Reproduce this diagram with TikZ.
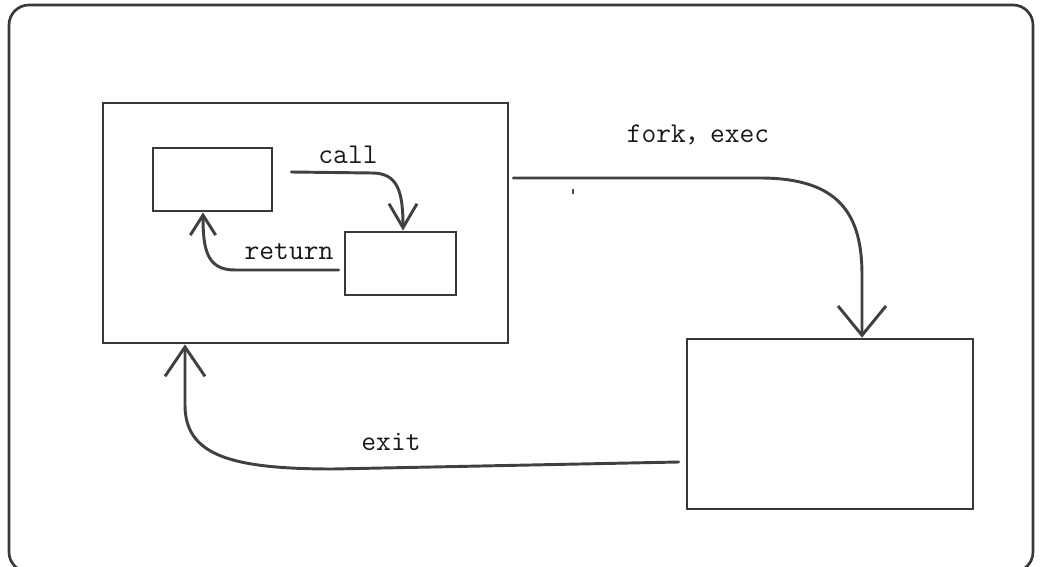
\documentclass[tikz,border=0pt]{standalone}
\usepackage{fontspec}
\newfontfamily\cjk{Noto Sans CJK SC}
\usetikzlibrary{arrows.meta,calc}
\begin{document}
\begin{tikzpicture}[x=0.75pt,y=-0.75pt,
  line/.style={draw=black!78, line width=2.1pt},
  box/.style={line, rectangle, inner sep=0pt, fill=white},
  conn/.style={draw=black!75, line width=2.2pt, line cap=round, line join=round},
  lbl/.style={font=\fontsize{21.5}{23}\selectfont\ttfamily, text=black!90, inner sep=0pt}]
\useasboundingbox (0,0) rectangle (1043,567);
\clip (0,0) rectangle (1043,567);
% outer frame
\draw[line, line width=2pt, rounded corners=15pt] (9,5) rectangle (1033,572);
% boxes
\node[box, minimum width=303.75pt, minimum height=180pt] (P) at (305.5,223) {};
\node[box, minimum width=89.25pt, minimum height=47.25pt] (A) at (212.5,179.5) {};
\node[box, minimum width=83.25pt, minimum height=47.25pt] (B) at (400.5,263.5) {};
\node[box, minimum width=214.5pt, minimum height=127.5pt] (C) at (830,424) {};
% connectors
\draw[conn, -{Straight Barb[length=18pt,width=21pt]}]
  ($(A.east)+(18,-7.5)$) -- (372,173) .. controls (398,173) and (403,192) .. ($(B.north)+(2.5,0)$);
\draw[conn, -{Straight Barb[length=15pt,width=19pt]}]
  ($(B.west)+(-5,6.5)$) -- (235,270) .. controls (207,270) and (203,250) .. ($(A.south)+(-9.5,0)$);
\draw[conn, -{Straight Barb[length=22pt,width=36pt]}]
  ($(P.east)+(4,-45)$) -- (760,178) .. controls (840,178) and (862,215) .. (862,275) -- ($(C.north)+(32,0)$);
\draw[conn, -{Straight Barb[length=22pt,width=30pt]}]
  ($(C.west)+(-7,38)$) -- (333,469) .. controls (230,469) and (185,455) .. (185,405) -- ($(P.south)+(-120.5,0)$);
% stray mark
\draw[black!70, line width=1pt] (573,189) -- (573,194);
% labels
\node[lbl] (lcall) at (348,155) {call};
\node[lbl] (lret) at (289,252) {return};
\node[lbl] (lfork) at (698,135) {fork{\cjk\fontsize{18}{20}\selectfont ，}exec};
\node[lbl] (lexit) at (391,442) {exit};
\end{tikzpicture}
\end{document}
